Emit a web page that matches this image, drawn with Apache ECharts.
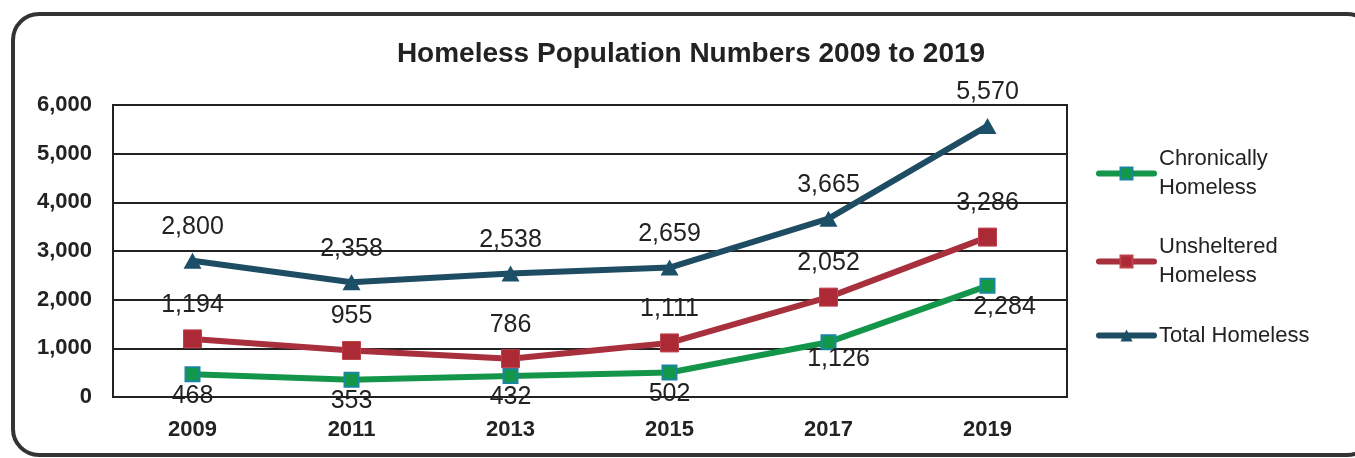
<!DOCTYPE html>
<html>
<head>
<meta charset="utf-8">
<script src="https://cdn.jsdelivr.net/npm/echarts@6/dist/echarts.min.js"></script>
<style>
  html, body { margin: 0; padding: 0; background: #ffffff; }
  #chart { width: 1355px; height: 458px; }
</style>
</head>
<body>
<div id="chart"></div>
<script>
// Survey years and counts per group
const years = ['2009', '2011', '2013', '2015', '2017', '2019'];
const chronicallyHomeless = [468, 353, 432, 502, 1126, 2284];
const unshelteredHomeless = [1194, 955, 786, 1111, 2052, 3286];
const totalHomeless = [2800, 2358, 2538, 2659, 3665, 5570];
const yTicks = [0, 1000, 2000, 3000, 4000, 5000, 6000];

const FONT = 'Liberation Sans';
const fmt = v => v.toLocaleString('en-US');

const chart = echarts.init(document.getElementById('chart'), null, { renderer: 'canvas' });

const labelBase = {
  show: true,
  fontFamily: FONT,
  fontSize: 25,
  color: '#222',
  formatter: p => fmt(p.value)
};

chart.setOption({
  animation: false,
  backgroundColor: '#ffffff',
  title: {
    text: 'Homeless Population Numbers 2009 to 2019',
    left: 686,
    top: 35,
    textAlign: 'center',
    textStyle: { fontFamily: FONT, fontSize: 28, fontWeight: 'bold', color: '#222' }
  },
  graphic: [{
    type: 'rect',
    shape: { x: 13, y: 14, width: 1360, height: 441, r: 26 },
    style: { fill: 'none', stroke: '#333', lineWidth: 4 },
    z: 0
  }],
  grid: {
    left: 113, right: 288, top: 105, bottom: 61,
    show: true, borderColor: '#222', borderWidth: 2, backgroundColor: 'transparent'
  },
  legend: {
    orient: 'vertical',
    left: 1091,
    top: 125,
    itemGap: 1,
    itemWidth: 55,
    itemHeight: 15,
    lineStyle: { width: 6, cap: 'round' },
    textStyle: {
      fontFamily: FONT, fontSize: 22, color: '#222', lineHeight: 29
    },
    data: [
      { name: 'Chronically\nHomeless', textStyle: { padding: [29, 0, 0, 0] } },
      { name: 'Unsheltered\nHomeless', textStyle: { padding: [29, 0, 0, 0] } },
      { name: 'Total Homeless', textStyle: { padding: [15, 0, 15, 0] } }
    ]
  },
  xAxis: {
    type: 'category',
    data: years,
    boundaryGap: true,
    axisLine: { show: true, lineStyle: { color: '#222', width: 2 } },
    axisTick: { show: false },
    axisLabel: { fontFamily: FONT, fontSize: 22, fontWeight: 'bold', color: '#222', margin: 22 }
  },
  yAxis: {
    type: 'value',
    min: yTicks[0],
    max: yTicks[yTicks.length - 1],
    interval: 1000,
    axisLine: { show: true, lineStyle: { color: '#222', width: 2 } },
    axisTick: { show: false },
    splitLine: { show: true, lineStyle: { color: '#222', width: 2 } },
    axisLabel: {
      fontFamily: FONT, fontSize: 22, fontWeight: 'bold', color: '#222', margin: 21,
      formatter: v => fmt(v)
    }
  },
  series: [
    {
      name: 'Chronically\nHomeless',
      type: 'line',
      data: chronicallyHomeless,
      symbol: 'rect',
      symbolSize: 14,
      lineStyle: { color: '#14964a', width: 6 },
      itemStyle: { color: '#13984a', borderColor: '#1a86a0', borderWidth: 2 },
      label: Object.assign({}, labelBase, { position: 'bottom', distance: 1 }),
      labelLayout: p => (p.dataIndex === 5 ? { dx: 17, dy: 0 } : (p.dataIndex === 4 ? { dx: 10, dy: -5 } : {})),
      z: 3
    },
    {
      name: 'Unsheltered\nHomeless',
      type: 'line',
      data: unshelteredHomeless,
      symbol: 'rect',
      symbolSize: 18,
      lineStyle: { color: '#a8303d', width: 6 },
      itemStyle: { color: '#ac2a35', borderColor: '#c0404a', borderWidth: 1 },
      label: Object.assign({}, labelBase, { position: 'top', distance: 12 }),
      z: 4
    },
    {
      name: 'Total Homeless',
      type: 'line',
      data: totalHomeless,
      symbol: 'triangle',
      symbolSize: [18, 16],
      lineStyle: { color: '#1e4d63', width: 6 },
      itemStyle: { color: '#1c5068' },
      label: Object.assign({}, labelBase, { position: 'top', distance: 13 }),
      z: 5
    }
  ]
});
</script>
</body>
</html>
